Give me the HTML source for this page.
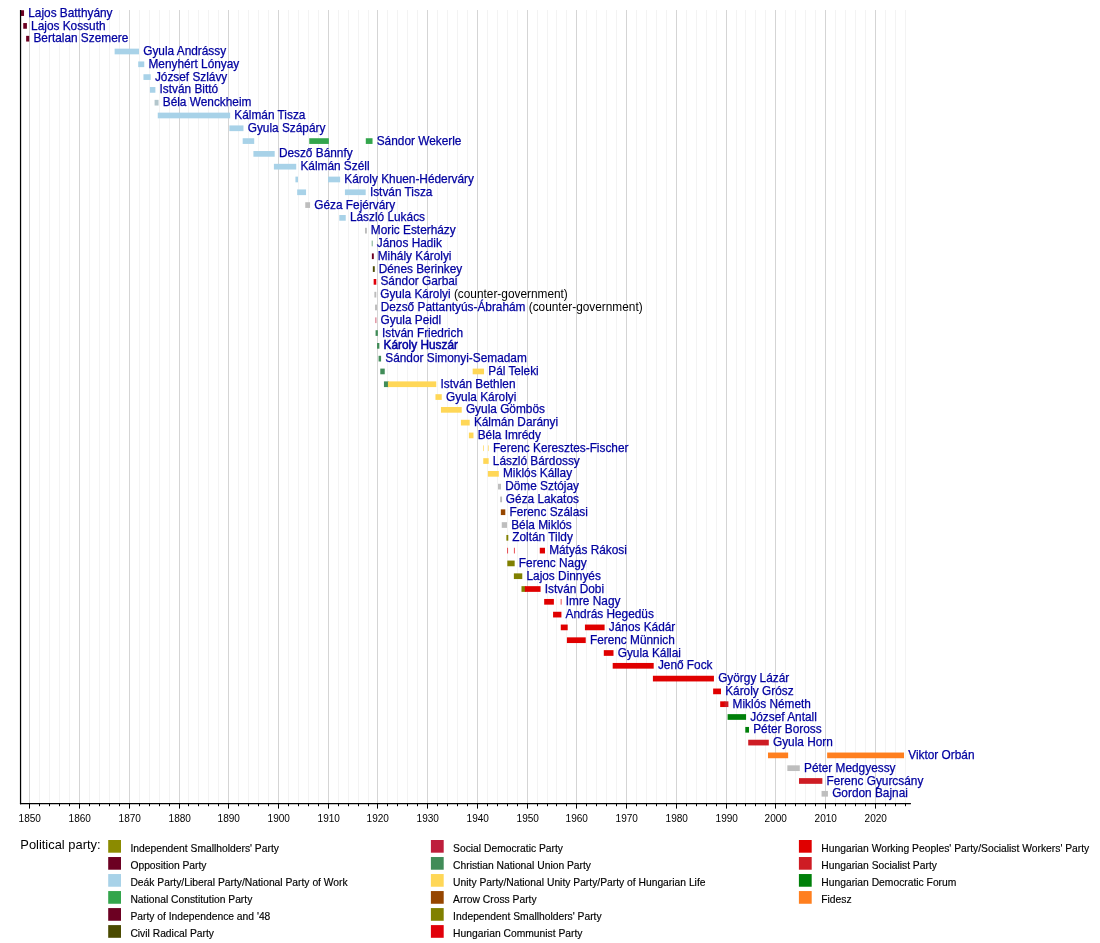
<!DOCTYPE html>
<html lang="en"><head><meta charset="utf-8"><title>Prime ministers of Hungary timeline</title>
<style>html,body{margin:0;padding:0;background:#fff}svg{display:block}</style></head>
<body>
<svg width="1100" height="943" viewBox="0 0 1100 943" font-family="'Liberation Sans', Arial, sans-serif">
<rect width="1100" height="943" fill="#fff"/>
<line x1="29.5" y1="10.0" x2="29.5" y2="803.6" stroke="#d5d5d5" stroke-width="1"/>
<line x1="39.5" y1="10.0" x2="39.5" y2="803.6" stroke="#f3f3f3" stroke-width="1"/>
<line x1="49.5" y1="10.0" x2="49.5" y2="803.6" stroke="#f3f3f3" stroke-width="1"/>
<line x1="59.5" y1="10.0" x2="59.5" y2="803.6" stroke="#f3f3f3" stroke-width="1"/>
<line x1="69.5" y1="10.0" x2="69.5" y2="803.6" stroke="#f3f3f3" stroke-width="1"/>
<line x1="79.5" y1="10.0" x2="79.5" y2="803.6" stroke="#d5d5d5" stroke-width="1"/>
<line x1="89.5" y1="10.0" x2="89.5" y2="803.6" stroke="#f3f3f3" stroke-width="1"/>
<line x1="99.5" y1="10.0" x2="99.5" y2="803.6" stroke="#f3f3f3" stroke-width="1"/>
<line x1="109.5" y1="10.0" x2="109.5" y2="803.6" stroke="#f3f3f3" stroke-width="1"/>
<line x1="119.5" y1="10.0" x2="119.5" y2="803.6" stroke="#f3f3f3" stroke-width="1"/>
<line x1="129.5" y1="10.0" x2="129.5" y2="803.6" stroke="#d5d5d5" stroke-width="1"/>
<line x1="139.5" y1="10.0" x2="139.5" y2="803.6" stroke="#f3f3f3" stroke-width="1"/>
<line x1="149.5" y1="10.0" x2="149.5" y2="803.6" stroke="#f3f3f3" stroke-width="1"/>
<line x1="159.5" y1="10.0" x2="159.5" y2="803.6" stroke="#f3f3f3" stroke-width="1"/>
<line x1="169.5" y1="10.0" x2="169.5" y2="803.6" stroke="#f3f3f3" stroke-width="1"/>
<line x1="179.5" y1="10.0" x2="179.5" y2="803.6" stroke="#d5d5d5" stroke-width="1"/>
<line x1="188.5" y1="10.0" x2="188.5" y2="803.6" stroke="#f3f3f3" stroke-width="1"/>
<line x1="198.5" y1="10.0" x2="198.5" y2="803.6" stroke="#f3f3f3" stroke-width="1"/>
<line x1="208.5" y1="10.0" x2="208.5" y2="803.6" stroke="#f3f3f3" stroke-width="1"/>
<line x1="218.5" y1="10.0" x2="218.5" y2="803.6" stroke="#f3f3f3" stroke-width="1"/>
<line x1="228.5" y1="10.0" x2="228.5" y2="803.6" stroke="#d5d5d5" stroke-width="1"/>
<line x1="238.5" y1="10.0" x2="238.5" y2="803.6" stroke="#f3f3f3" stroke-width="1"/>
<line x1="248.5" y1="10.0" x2="248.5" y2="803.6" stroke="#f3f3f3" stroke-width="1"/>
<line x1="258.5" y1="10.0" x2="258.5" y2="803.6" stroke="#f3f3f3" stroke-width="1"/>
<line x1="268.5" y1="10.0" x2="268.5" y2="803.6" stroke="#f3f3f3" stroke-width="1"/>
<line x1="278.5" y1="10.0" x2="278.5" y2="803.6" stroke="#d5d5d5" stroke-width="1"/>
<line x1="288.5" y1="10.0" x2="288.5" y2="803.6" stroke="#f3f3f3" stroke-width="1"/>
<line x1="298.5" y1="10.0" x2="298.5" y2="803.6" stroke="#f3f3f3" stroke-width="1"/>
<line x1="308.5" y1="10.0" x2="308.5" y2="803.6" stroke="#f3f3f3" stroke-width="1"/>
<line x1="318.5" y1="10.0" x2="318.5" y2="803.6" stroke="#f3f3f3" stroke-width="1"/>
<line x1="328.5" y1="10.0" x2="328.5" y2="803.6" stroke="#d5d5d5" stroke-width="1"/>
<line x1="338.5" y1="10.0" x2="338.5" y2="803.6" stroke="#f3f3f3" stroke-width="1"/>
<line x1="348.5" y1="10.0" x2="348.5" y2="803.6" stroke="#f3f3f3" stroke-width="1"/>
<line x1="358.5" y1="10.0" x2="358.5" y2="803.6" stroke="#f3f3f3" stroke-width="1"/>
<line x1="368.5" y1="10.0" x2="368.5" y2="803.6" stroke="#f3f3f3" stroke-width="1"/>
<line x1="377.5" y1="10.0" x2="377.5" y2="803.6" stroke="#d5d5d5" stroke-width="1"/>
<line x1="387.5" y1="10.0" x2="387.5" y2="803.6" stroke="#f3f3f3" stroke-width="1"/>
<line x1="397.5" y1="10.0" x2="397.5" y2="803.6" stroke="#f3f3f3" stroke-width="1"/>
<line x1="407.5" y1="10.0" x2="407.5" y2="803.6" stroke="#f3f3f3" stroke-width="1"/>
<line x1="417.5" y1="10.0" x2="417.5" y2="803.6" stroke="#f3f3f3" stroke-width="1"/>
<line x1="427.5" y1="10.0" x2="427.5" y2="803.6" stroke="#d5d5d5" stroke-width="1"/>
<line x1="437.5" y1="10.0" x2="437.5" y2="803.6" stroke="#f3f3f3" stroke-width="1"/>
<line x1="447.5" y1="10.0" x2="447.5" y2="803.6" stroke="#f3f3f3" stroke-width="1"/>
<line x1="457.5" y1="10.0" x2="457.5" y2="803.6" stroke="#f3f3f3" stroke-width="1"/>
<line x1="467.5" y1="10.0" x2="467.5" y2="803.6" stroke="#f3f3f3" stroke-width="1"/>
<line x1="477.5" y1="10.0" x2="477.5" y2="803.6" stroke="#d5d5d5" stroke-width="1"/>
<line x1="487.5" y1="10.0" x2="487.5" y2="803.6" stroke="#f3f3f3" stroke-width="1"/>
<line x1="497.5" y1="10.0" x2="497.5" y2="803.6" stroke="#f3f3f3" stroke-width="1"/>
<line x1="507.5" y1="10.0" x2="507.5" y2="803.6" stroke="#f3f3f3" stroke-width="1"/>
<line x1="517.5" y1="10.0" x2="517.5" y2="803.6" stroke="#f3f3f3" stroke-width="1"/>
<line x1="527.5" y1="10.0" x2="527.5" y2="803.6" stroke="#d5d5d5" stroke-width="1"/>
<line x1="537.5" y1="10.0" x2="537.5" y2="803.6" stroke="#f3f3f3" stroke-width="1"/>
<line x1="547.5" y1="10.0" x2="547.5" y2="803.6" stroke="#f3f3f3" stroke-width="1"/>
<line x1="556.5" y1="10.0" x2="556.5" y2="803.6" stroke="#f3f3f3" stroke-width="1"/>
<line x1="566.5" y1="10.0" x2="566.5" y2="803.6" stroke="#f3f3f3" stroke-width="1"/>
<line x1="576.5" y1="10.0" x2="576.5" y2="803.6" stroke="#d5d5d5" stroke-width="1"/>
<line x1="586.5" y1="10.0" x2="586.5" y2="803.6" stroke="#f3f3f3" stroke-width="1"/>
<line x1="596.5" y1="10.0" x2="596.5" y2="803.6" stroke="#f3f3f3" stroke-width="1"/>
<line x1="606.5" y1="10.0" x2="606.5" y2="803.6" stroke="#f3f3f3" stroke-width="1"/>
<line x1="616.5" y1="10.0" x2="616.5" y2="803.6" stroke="#f3f3f3" stroke-width="1"/>
<line x1="626.5" y1="10.0" x2="626.5" y2="803.6" stroke="#d5d5d5" stroke-width="1"/>
<line x1="636.5" y1="10.0" x2="636.5" y2="803.6" stroke="#f3f3f3" stroke-width="1"/>
<line x1="646.5" y1="10.0" x2="646.5" y2="803.6" stroke="#f3f3f3" stroke-width="1"/>
<line x1="656.5" y1="10.0" x2="656.5" y2="803.6" stroke="#f3f3f3" stroke-width="1"/>
<line x1="666.5" y1="10.0" x2="666.5" y2="803.6" stroke="#f3f3f3" stroke-width="1"/>
<line x1="676.5" y1="10.0" x2="676.5" y2="803.6" stroke="#d5d5d5" stroke-width="1"/>
<line x1="686.5" y1="10.0" x2="686.5" y2="803.6" stroke="#f3f3f3" stroke-width="1"/>
<line x1="696.5" y1="10.0" x2="696.5" y2="803.6" stroke="#f3f3f3" stroke-width="1"/>
<line x1="706.5" y1="10.0" x2="706.5" y2="803.6" stroke="#f3f3f3" stroke-width="1"/>
<line x1="716.5" y1="10.0" x2="716.5" y2="803.6" stroke="#f3f3f3" stroke-width="1"/>
<line x1="726.5" y1="10.0" x2="726.5" y2="803.6" stroke="#d5d5d5" stroke-width="1"/>
<line x1="736.5" y1="10.0" x2="736.5" y2="803.6" stroke="#f3f3f3" stroke-width="1"/>
<line x1="745.5" y1="10.0" x2="745.5" y2="803.6" stroke="#f3f3f3" stroke-width="1"/>
<line x1="755.5" y1="10.0" x2="755.5" y2="803.6" stroke="#f3f3f3" stroke-width="1"/>
<line x1="765.5" y1="10.0" x2="765.5" y2="803.6" stroke="#f3f3f3" stroke-width="1"/>
<line x1="775.5" y1="10.0" x2="775.5" y2="803.6" stroke="#d5d5d5" stroke-width="1"/>
<line x1="785.5" y1="10.0" x2="785.5" y2="803.6" stroke="#f3f3f3" stroke-width="1"/>
<line x1="795.5" y1="10.0" x2="795.5" y2="803.6" stroke="#f3f3f3" stroke-width="1"/>
<line x1="805.5" y1="10.0" x2="805.5" y2="803.6" stroke="#f3f3f3" stroke-width="1"/>
<line x1="815.5" y1="10.0" x2="815.5" y2="803.6" stroke="#f3f3f3" stroke-width="1"/>
<line x1="825.5" y1="10.0" x2="825.5" y2="803.6" stroke="#d5d5d5" stroke-width="1"/>
<line x1="835.5" y1="10.0" x2="835.5" y2="803.6" stroke="#f3f3f3" stroke-width="1"/>
<line x1="845.5" y1="10.0" x2="845.5" y2="803.6" stroke="#f3f3f3" stroke-width="1"/>
<line x1="855.5" y1="10.0" x2="855.5" y2="803.6" stroke="#f3f3f3" stroke-width="1"/>
<line x1="865.5" y1="10.0" x2="865.5" y2="803.6" stroke="#f3f3f3" stroke-width="1"/>
<line x1="875.5" y1="10.0" x2="875.5" y2="803.6" stroke="#d5d5d5" stroke-width="1"/>
<line x1="885.5" y1="10.0" x2="885.5" y2="803.6" stroke="#f3f3f3" stroke-width="1"/>
<line x1="895.5" y1="10.0" x2="895.5" y2="803.6" stroke="#f3f3f3" stroke-width="1"/>
<line x1="905.5" y1="10.0" x2="905.5" y2="803.6" stroke="#f3f3f3" stroke-width="1"/>
<rect x="20.54" y="10.25" width="3.50" height="5.7" fill="#6C0022"/>
<rect x="23.24" y="23.05" width="3.67" height="5.7" fill="#6C0022"/>
<rect x="26.13" y="35.85" width="3.13" height="5.7" fill="#6C0022"/>
<rect x="114.63" y="48.64" width="24.37" height="5.7" fill="#A8D2E8"/>
<rect x="138.20" y="61.44" width="6.05" height="5.7" fill="#A8D2E8"/>
<rect x="143.45" y="74.24" width="7.23" height="5.7" fill="#A8D2E8"/>
<rect x="149.88" y="87.04" width="5.51" height="5.7" fill="#A8D2E8"/>
<rect x="154.59" y="99.84" width="3.96" height="5.7" fill="#B3C6CC"/>
<rect x="157.75" y="112.63" width="72.38" height="5.7" fill="#A8D2E8"/>
<rect x="229.34" y="125.43" width="14.14" height="5.7" fill="#A8D2E8"/>
<rect x="242.68" y="138.23" width="11.53" height="5.7" fill="#A8D2E8"/>
<rect x="309.26" y="138.23" width="19.59" height="5.7" fill="#33A54C"/>
<rect x="365.79" y="138.23" width="6.74" height="5.7" fill="#33A54C"/>
<rect x="253.41" y="151.03" width="21.28" height="5.7" fill="#A8D2E8"/>
<rect x="273.89" y="163.83" width="22.34" height="5.7" fill="#A8D2E8"/>
<rect x="295.43" y="176.62" width="2.56" height="5.7" fill="#A8D2E8"/>
<rect x="328.05" y="176.62" width="12.05" height="5.7" fill="#A8D2E8"/>
<rect x="297.19" y="189.42" width="8.87" height="5.7" fill="#A8D2E8"/>
<rect x="344.93" y="189.42" width="20.76" height="5.7" fill="#A8D2E8"/>
<rect x="305.25" y="202.22" width="4.81" height="5.7" fill="#BEBEBE"/>
<rect x="339.30" y="215.02" width="6.43" height="5.7" fill="#A8D2E8"/>
<rect x="364.99" y="227.82" width="1.90" height="5.7" fill="#BCBCBC"/>
<rect x="371.79" y="240.61" width="0.70" height="5.7" fill="#418C58"/>
<rect x="371.88" y="253.41" width="1.90" height="5.7" fill="#6C0022"/>
<rect x="372.84" y="266.21" width="1.90" height="5.7" fill="#4A4A00"/>
<rect x="373.66" y="279.01" width="2.61" height="5.7" fill="#E1000A"/>
<rect x="374.39" y="291.81" width="1.90" height="5.7" fill="#BCBCBC"/>
<rect x="375.06" y="304.60" width="1.90" height="5.7" fill="#BCBCBC"/>
<rect x="375.56" y="317.40" width="0.70" height="5.7" fill="#BE1E3C"/>
<rect x="375.56" y="330.20" width="2.29" height="5.7" fill="#418C58"/>
<rect x="377.04" y="343.00" width="2.32" height="5.7" fill="#418C58"/>
<rect x="378.57" y="355.80" width="2.51" height="5.7" fill="#418C58"/>
<rect x="380.28" y="368.59" width="4.46" height="5.7" fill="#418C58"/>
<rect x="472.67" y="368.59" width="11.37" height="5.7" fill="#FFD757"/>
<rect x="383.94" y="381.39" width="4.81" height="5.7" fill="#418C58"/>
<rect x="387.94" y="381.39" width="48.32" height="5.7" fill="#FFD757"/>
<rect x="435.46" y="394.19" width="6.29" height="5.7" fill="#FFD757"/>
<rect x="440.96" y="406.99" width="20.76" height="5.7" fill="#FFD757"/>
<rect x="460.92" y="419.79" width="8.77" height="5.7" fill="#FFD757"/>
<rect x="468.89" y="432.58" width="4.59" height="5.7" fill="#FFD757"/>
<rect x="483.30" y="445.38" width="0.70" height="5.7" fill="#FFD757"/>
<rect x="487.92" y="445.38" width="0.70" height="5.7" fill="#FFD757"/>
<rect x="483.25" y="458.18" width="5.41" height="5.7" fill="#FFD757"/>
<rect x="487.88" y="470.98" width="10.93" height="5.7" fill="#FFD757"/>
<rect x="498.01" y="483.78" width="2.97" height="5.7" fill="#BEBEBE"/>
<rect x="500.16" y="496.57" width="1.90" height="5.7" fill="#BCBCBC"/>
<rect x="500.84" y="509.37" width="4.46" height="5.7" fill="#964600"/>
<rect x="501.75" y="522.17" width="5.27" height="5.7" fill="#BEBEBE"/>
<rect x="506.40" y="534.97" width="1.90" height="5.7" fill="#808000"/>
<rect x="507.35" y="547.77" width="0.70" height="5.7" fill="#E1000A"/>
<rect x="513.93" y="547.77" width="0.70" height="5.7" fill="#E1000A"/>
<rect x="539.77" y="547.77" width="5.21" height="5.7" fill="#E00000"/>
<rect x="507.32" y="560.56" width="7.35" height="5.7" fill="#808000"/>
<rect x="513.87" y="573.36" width="8.40" height="5.7" fill="#808000"/>
<rect x="521.48" y="586.16" width="4.18" height="5.7" fill="#808000"/>
<rect x="524.86" y="586.16" width="15.71" height="5.7" fill="#E00000"/>
<rect x="544.18" y="598.96" width="9.70" height="5.7" fill="#E00000"/>
<rect x="560.75" y="598.96" width="0.70" height="5.7" fill="#E00000"/>
<rect x="553.07" y="611.76" width="8.35" height="5.7" fill="#E00000"/>
<rect x="560.77" y="624.55" width="6.93" height="5.7" fill="#E00000"/>
<rect x="584.93" y="624.55" width="19.67" height="5.7" fill="#E00000"/>
<rect x="566.90" y="637.35" width="18.83" height="5.7" fill="#E00000"/>
<rect x="603.80" y="650.15" width="9.70" height="5.7" fill="#E00000"/>
<rect x="612.69" y="662.95" width="41.01" height="5.7" fill="#E00000"/>
<rect x="652.90" y="675.75" width="61.03" height="5.7" fill="#E00000"/>
<rect x="713.14" y="688.54" width="7.85" height="5.7" fill="#E00000"/>
<rect x="720.18" y="701.34" width="5.12" height="5.7" fill="#E00000"/>
<rect x="724.50" y="701.34" width="3.91" height="5.7" fill="#CE1C24"/>
<rect x="727.60" y="714.14" width="18.48" height="5.7" fill="#00800A"/>
<rect x="745.29" y="726.94" width="3.73" height="5.7" fill="#00800A"/>
<rect x="748.22" y="739.74" width="20.57" height="5.7" fill="#CE1C24"/>
<rect x="767.99" y="752.53" width="20.15" height="5.7" fill="#FF7F1F"/>
<rect x="827.15" y="752.53" width="76.88" height="5.7" fill="#FF7F1F"/>
<rect x="787.34" y="765.33" width="12.45" height="5.7" fill="#BEBEBE"/>
<rect x="798.99" y="778.13" width="23.37" height="5.7" fill="#CE1C24"/>
<rect x="821.56" y="790.93" width="6.39" height="5.7" fill="#BEBEBE"/>
<line x1="20.55" y1="10.0" x2="20.55" y2="804.2" stroke="#000" stroke-width="1.25"/>
<line x1="19.95" y1="803.6" x2="910.9" y2="803.6" stroke="#000" stroke-width="1.25"/>
<line x1="29.5" y1="803.6" x2="29.5" y2="808.6" stroke="#000" stroke-width="1"/>
<text x="29.8" y="821.6" font-size="10.05" text-anchor="middle" fill="#000">1850</text>
<line x1="39.5" y1="803.6" x2="39.5" y2="806.2" stroke="#000" stroke-width="1"/>
<line x1="49.5" y1="803.6" x2="49.5" y2="806.2" stroke="#000" stroke-width="1"/>
<line x1="59.5" y1="803.6" x2="59.5" y2="806.2" stroke="#000" stroke-width="1"/>
<line x1="69.5" y1="803.6" x2="69.5" y2="806.2" stroke="#000" stroke-width="1"/>
<line x1="79.5" y1="803.6" x2="79.5" y2="808.6" stroke="#000" stroke-width="1"/>
<text x="79.8" y="821.6" font-size="10.05" text-anchor="middle" fill="#000">1860</text>
<line x1="89.5" y1="803.6" x2="89.5" y2="806.2" stroke="#000" stroke-width="1"/>
<line x1="99.5" y1="803.6" x2="99.5" y2="806.2" stroke="#000" stroke-width="1"/>
<line x1="109.5" y1="803.6" x2="109.5" y2="806.2" stroke="#000" stroke-width="1"/>
<line x1="119.5" y1="803.6" x2="119.5" y2="806.2" stroke="#000" stroke-width="1"/>
<line x1="129.5" y1="803.6" x2="129.5" y2="808.6" stroke="#000" stroke-width="1"/>
<text x="129.8" y="821.6" font-size="10.05" text-anchor="middle" fill="#000">1870</text>
<line x1="139.5" y1="803.6" x2="139.5" y2="806.2" stroke="#000" stroke-width="1"/>
<line x1="149.5" y1="803.6" x2="149.5" y2="806.2" stroke="#000" stroke-width="1"/>
<line x1="159.5" y1="803.6" x2="159.5" y2="806.2" stroke="#000" stroke-width="1"/>
<line x1="169.5" y1="803.6" x2="169.5" y2="806.2" stroke="#000" stroke-width="1"/>
<line x1="179.5" y1="803.6" x2="179.5" y2="808.6" stroke="#000" stroke-width="1"/>
<text x="179.8" y="821.6" font-size="10.05" text-anchor="middle" fill="#000">1880</text>
<line x1="188.5" y1="803.6" x2="188.5" y2="806.2" stroke="#000" stroke-width="1"/>
<line x1="198.5" y1="803.6" x2="198.5" y2="806.2" stroke="#000" stroke-width="1"/>
<line x1="208.5" y1="803.6" x2="208.5" y2="806.2" stroke="#000" stroke-width="1"/>
<line x1="218.5" y1="803.6" x2="218.5" y2="806.2" stroke="#000" stroke-width="1"/>
<line x1="228.5" y1="803.6" x2="228.5" y2="808.6" stroke="#000" stroke-width="1"/>
<text x="228.8" y="821.6" font-size="10.05" text-anchor="middle" fill="#000">1890</text>
<line x1="238.5" y1="803.6" x2="238.5" y2="806.2" stroke="#000" stroke-width="1"/>
<line x1="248.5" y1="803.6" x2="248.5" y2="806.2" stroke="#000" stroke-width="1"/>
<line x1="258.5" y1="803.6" x2="258.5" y2="806.2" stroke="#000" stroke-width="1"/>
<line x1="268.5" y1="803.6" x2="268.5" y2="806.2" stroke="#000" stroke-width="1"/>
<line x1="278.5" y1="803.6" x2="278.5" y2="808.6" stroke="#000" stroke-width="1"/>
<text x="278.8" y="821.6" font-size="10.05" text-anchor="middle" fill="#000">1900</text>
<line x1="288.5" y1="803.6" x2="288.5" y2="806.2" stroke="#000" stroke-width="1"/>
<line x1="298.5" y1="803.6" x2="298.5" y2="806.2" stroke="#000" stroke-width="1"/>
<line x1="308.5" y1="803.6" x2="308.5" y2="806.2" stroke="#000" stroke-width="1"/>
<line x1="318.5" y1="803.6" x2="318.5" y2="806.2" stroke="#000" stroke-width="1"/>
<line x1="328.5" y1="803.6" x2="328.5" y2="808.6" stroke="#000" stroke-width="1"/>
<text x="328.8" y="821.6" font-size="10.05" text-anchor="middle" fill="#000">1910</text>
<line x1="338.5" y1="803.6" x2="338.5" y2="806.2" stroke="#000" stroke-width="1"/>
<line x1="348.5" y1="803.6" x2="348.5" y2="806.2" stroke="#000" stroke-width="1"/>
<line x1="358.5" y1="803.6" x2="358.5" y2="806.2" stroke="#000" stroke-width="1"/>
<line x1="368.5" y1="803.6" x2="368.5" y2="806.2" stroke="#000" stroke-width="1"/>
<line x1="377.5" y1="803.6" x2="377.5" y2="808.6" stroke="#000" stroke-width="1"/>
<text x="377.8" y="821.6" font-size="10.05" text-anchor="middle" fill="#000">1920</text>
<line x1="387.5" y1="803.6" x2="387.5" y2="806.2" stroke="#000" stroke-width="1"/>
<line x1="397.5" y1="803.6" x2="397.5" y2="806.2" stroke="#000" stroke-width="1"/>
<line x1="407.5" y1="803.6" x2="407.5" y2="806.2" stroke="#000" stroke-width="1"/>
<line x1="417.5" y1="803.6" x2="417.5" y2="806.2" stroke="#000" stroke-width="1"/>
<line x1="427.5" y1="803.6" x2="427.5" y2="808.6" stroke="#000" stroke-width="1"/>
<text x="427.8" y="821.6" font-size="10.05" text-anchor="middle" fill="#000">1930</text>
<line x1="437.5" y1="803.6" x2="437.5" y2="806.2" stroke="#000" stroke-width="1"/>
<line x1="447.5" y1="803.6" x2="447.5" y2="806.2" stroke="#000" stroke-width="1"/>
<line x1="457.5" y1="803.6" x2="457.5" y2="806.2" stroke="#000" stroke-width="1"/>
<line x1="467.5" y1="803.6" x2="467.5" y2="806.2" stroke="#000" stroke-width="1"/>
<line x1="477.5" y1="803.6" x2="477.5" y2="808.6" stroke="#000" stroke-width="1"/>
<text x="477.8" y="821.6" font-size="10.05" text-anchor="middle" fill="#000">1940</text>
<line x1="487.5" y1="803.6" x2="487.5" y2="806.2" stroke="#000" stroke-width="1"/>
<line x1="497.5" y1="803.6" x2="497.5" y2="806.2" stroke="#000" stroke-width="1"/>
<line x1="507.5" y1="803.6" x2="507.5" y2="806.2" stroke="#000" stroke-width="1"/>
<line x1="517.5" y1="803.6" x2="517.5" y2="806.2" stroke="#000" stroke-width="1"/>
<line x1="527.5" y1="803.6" x2="527.5" y2="808.6" stroke="#000" stroke-width="1"/>
<text x="527.8" y="821.6" font-size="10.05" text-anchor="middle" fill="#000">1950</text>
<line x1="537.5" y1="803.6" x2="537.5" y2="806.2" stroke="#000" stroke-width="1"/>
<line x1="547.5" y1="803.6" x2="547.5" y2="806.2" stroke="#000" stroke-width="1"/>
<line x1="556.5" y1="803.6" x2="556.5" y2="806.2" stroke="#000" stroke-width="1"/>
<line x1="566.5" y1="803.6" x2="566.5" y2="806.2" stroke="#000" stroke-width="1"/>
<line x1="576.5" y1="803.6" x2="576.5" y2="808.6" stroke="#000" stroke-width="1"/>
<text x="576.8" y="821.6" font-size="10.05" text-anchor="middle" fill="#000">1960</text>
<line x1="586.5" y1="803.6" x2="586.5" y2="806.2" stroke="#000" stroke-width="1"/>
<line x1="596.5" y1="803.6" x2="596.5" y2="806.2" stroke="#000" stroke-width="1"/>
<line x1="606.5" y1="803.6" x2="606.5" y2="806.2" stroke="#000" stroke-width="1"/>
<line x1="616.5" y1="803.6" x2="616.5" y2="806.2" stroke="#000" stroke-width="1"/>
<line x1="626.5" y1="803.6" x2="626.5" y2="808.6" stroke="#000" stroke-width="1"/>
<text x="626.8" y="821.6" font-size="10.05" text-anchor="middle" fill="#000">1970</text>
<line x1="636.5" y1="803.6" x2="636.5" y2="806.2" stroke="#000" stroke-width="1"/>
<line x1="646.5" y1="803.6" x2="646.5" y2="806.2" stroke="#000" stroke-width="1"/>
<line x1="656.5" y1="803.6" x2="656.5" y2="806.2" stroke="#000" stroke-width="1"/>
<line x1="666.5" y1="803.6" x2="666.5" y2="806.2" stroke="#000" stroke-width="1"/>
<line x1="676.5" y1="803.6" x2="676.5" y2="808.6" stroke="#000" stroke-width="1"/>
<text x="676.8" y="821.6" font-size="10.05" text-anchor="middle" fill="#000">1980</text>
<line x1="686.5" y1="803.6" x2="686.5" y2="806.2" stroke="#000" stroke-width="1"/>
<line x1="696.5" y1="803.6" x2="696.5" y2="806.2" stroke="#000" stroke-width="1"/>
<line x1="706.5" y1="803.6" x2="706.5" y2="806.2" stroke="#000" stroke-width="1"/>
<line x1="716.5" y1="803.6" x2="716.5" y2="806.2" stroke="#000" stroke-width="1"/>
<line x1="726.5" y1="803.6" x2="726.5" y2="808.6" stroke="#000" stroke-width="1"/>
<text x="726.8" y="821.6" font-size="10.05" text-anchor="middle" fill="#000">1990</text>
<line x1="736.5" y1="803.6" x2="736.5" y2="806.2" stroke="#000" stroke-width="1"/>
<line x1="745.5" y1="803.6" x2="745.5" y2="806.2" stroke="#000" stroke-width="1"/>
<line x1="755.5" y1="803.6" x2="755.5" y2="806.2" stroke="#000" stroke-width="1"/>
<line x1="765.5" y1="803.6" x2="765.5" y2="806.2" stroke="#000" stroke-width="1"/>
<line x1="775.5" y1="803.6" x2="775.5" y2="808.6" stroke="#000" stroke-width="1"/>
<text x="775.8" y="821.6" font-size="10.05" text-anchor="middle" fill="#000">2000</text>
<line x1="785.5" y1="803.6" x2="785.5" y2="806.2" stroke="#000" stroke-width="1"/>
<line x1="795.5" y1="803.6" x2="795.5" y2="806.2" stroke="#000" stroke-width="1"/>
<line x1="805.5" y1="803.6" x2="805.5" y2="806.2" stroke="#000" stroke-width="1"/>
<line x1="815.5" y1="803.6" x2="815.5" y2="806.2" stroke="#000" stroke-width="1"/>
<line x1="825.5" y1="803.6" x2="825.5" y2="808.6" stroke="#000" stroke-width="1"/>
<text x="825.8" y="821.6" font-size="10.05" text-anchor="middle" fill="#000">2010</text>
<line x1="835.5" y1="803.6" x2="835.5" y2="806.2" stroke="#000" stroke-width="1"/>
<line x1="845.5" y1="803.6" x2="845.5" y2="806.2" stroke="#000" stroke-width="1"/>
<line x1="855.5" y1="803.6" x2="855.5" y2="806.2" stroke="#000" stroke-width="1"/>
<line x1="865.5" y1="803.6" x2="865.5" y2="806.2" stroke="#000" stroke-width="1"/>
<line x1="875.5" y1="803.6" x2="875.5" y2="808.6" stroke="#000" stroke-width="1"/>
<text x="875.8" y="821.6" font-size="10.05" text-anchor="middle" fill="#000">2020</text>
<line x1="885.5" y1="803.6" x2="885.5" y2="806.2" stroke="#000" stroke-width="1"/>
<line x1="895.5" y1="803.6" x2="895.5" y2="806.2" stroke="#000" stroke-width="1"/>
<line x1="905.5" y1="803.6" x2="905.5" y2="806.2" stroke="#000" stroke-width="1"/>
<text x="28.24" y="16.70" font-size="11.85" fill="#0000a0" stroke="#0000a0" stroke-width="0.25" xml:space="preserve">Lajos Batthyány</text>
<text x="31.11" y="29.50" font-size="11.85" fill="#0000a0" stroke="#0000a0" stroke-width="0.25" xml:space="preserve">Lajos Kossuth</text>
<text x="33.46" y="42.30" font-size="11.85" fill="#0000a0" stroke="#0000a0" stroke-width="0.25" xml:space="preserve">Bertalan Szemere</text>
<text x="143.20" y="55.09" font-size="11.85" fill="#0000a0" stroke="#0000a0" stroke-width="0.25" xml:space="preserve">Gyula Andrássy</text>
<text x="148.45" y="67.89" font-size="11.85" fill="#0000a0" stroke="#0000a0" stroke-width="0.25" xml:space="preserve">Menyhért Lónyay</text>
<text x="154.88" y="80.69" font-size="11.85" fill="#0000a0" stroke="#0000a0" stroke-width="0.25" xml:space="preserve">József Szlávy</text>
<text x="159.59" y="93.49" font-size="11.85" fill="#0000a0" stroke="#0000a0" stroke-width="0.25" xml:space="preserve">István Bittó</text>
<text x="162.75" y="106.29" font-size="11.85" fill="#0000a0" stroke="#0000a0" stroke-width="0.25" xml:space="preserve">Béla Wenckheim</text>
<text x="234.34" y="119.08" font-size="11.85" fill="#0000a0" stroke="#0000a0" stroke-width="0.25" xml:space="preserve">Kálmán Tisza</text>
<text x="247.68" y="131.88" font-size="11.85" fill="#0000a0" stroke="#0000a0" stroke-width="0.25" xml:space="preserve">Gyula Szápáry</text>
<text x="376.73" y="144.68" font-size="11.85" fill="#0000a0" stroke="#0000a0" stroke-width="0.25" xml:space="preserve">Sándor Wekerle</text>
<text x="278.89" y="157.48" font-size="11.85" fill="#0000a0" stroke="#0000a0" stroke-width="0.25" xml:space="preserve">Desző Bánnfy</text>
<text x="300.43" y="170.28" font-size="11.85" fill="#0000a0" stroke="#0000a0" stroke-width="0.25" xml:space="preserve">Kálmán Széll</text>
<text x="344.30" y="183.07" font-size="11.85" fill="#0000a0" stroke="#0000a0" stroke-width="0.25" xml:space="preserve">Károly Khuen-Héderváry</text>
<text x="369.89" y="195.87" font-size="11.85" fill="#0000a0" stroke="#0000a0" stroke-width="0.25" xml:space="preserve">István Tisza</text>
<text x="314.26" y="208.67" font-size="11.85" fill="#0000a0" stroke="#0000a0" stroke-width="0.25" xml:space="preserve">Géza Fejérváry</text>
<text x="349.93" y="221.47" font-size="11.85" fill="#0000a0" stroke="#0000a0" stroke-width="0.25" xml:space="preserve">László Lukács</text>
<text x="370.79" y="234.27" font-size="11.85" fill="#0000a0" stroke="#0000a0" stroke-width="0.25" xml:space="preserve">Moric Esterházy</text>
<text x="376.74" y="247.06" font-size="11.85" fill="#0000a0" stroke="#0000a0" stroke-width="0.25" xml:space="preserve">János Hadik</text>
<text x="377.72" y="259.86" font-size="11.85" fill="#0000a0" stroke="#0000a0" stroke-width="0.25" xml:space="preserve">Mihály Károlyi</text>
<text x="378.66" y="272.66" font-size="11.85" fill="#0000a0" stroke="#0000a0" stroke-width="0.25" xml:space="preserve">Dénes Berinkey</text>
<text x="380.48" y="285.46" font-size="11.85" fill="#0000a0" stroke="#0000a0" stroke-width="0.25" xml:space="preserve">Sándor Garbai</text>
<text x="380.20" y="298.26" font-size="11.85" fill="#0000a0" stroke="#0000a0" stroke-width="0.25" xml:space="preserve"><tspan fill="#0000a0">Gyula Károlyi</tspan><tspan fill="#000" stroke="none"> (counter-government)</tspan></text>
<text x="380.63" y="311.05" font-size="11.85" fill="#0000a0" stroke="#0000a0" stroke-width="0.25" xml:space="preserve"><tspan fill="#0000a0">Dezső Pattantyús-Ábrahám</tspan><tspan fill="#000" stroke="none"> (counter-government)</tspan></text>
<text x="380.54" y="323.85" font-size="11.85" fill="#0000a0" stroke="#0000a0" stroke-width="0.25" xml:space="preserve">Gyula Peidl</text>
<text x="382.04" y="336.65" font-size="11.85" fill="#0000a0" stroke="#0000a0" stroke-width="0.25" xml:space="preserve">István Friedrich</text>
<text x="383.57" y="349.45" font-size="11.85" fill="#0000a0" stroke="#0000a0" stroke-width="0.25" xml:space="preserve" style="stroke-width:0.5">Károly Huszár</text>
<text x="385.28" y="362.25" font-size="11.85" fill="#0000a0" stroke="#0000a0" stroke-width="0.25" xml:space="preserve">Sándor Simonyi-Semadam</text>
<text x="488.25" y="375.04" font-size="11.85" fill="#0000a0" stroke="#0000a0" stroke-width="0.25" xml:space="preserve">Pál Teleki</text>
<text x="440.46" y="387.84" font-size="11.85" fill="#0000a0" stroke="#0000a0" stroke-width="0.25" xml:space="preserve">István Bethlen</text>
<text x="445.96" y="400.64" font-size="11.85" fill="#0000a0" stroke="#0000a0" stroke-width="0.25" xml:space="preserve">Gyula Károlyi</text>
<text x="465.92" y="413.44" font-size="11.85" fill="#0000a0" stroke="#0000a0" stroke-width="0.25" xml:space="preserve">Gyula Gömbös</text>
<text x="473.89" y="426.24" font-size="11.85" fill="#0000a0" stroke="#0000a0" stroke-width="0.25" xml:space="preserve">Kálmán Darányi</text>
<text x="477.67" y="439.03" font-size="11.85" fill="#0000a0" stroke="#0000a0" stroke-width="0.25" xml:space="preserve">Béla Imrédy</text>
<text x="492.88" y="451.83" font-size="11.85" fill="#0000a0" stroke="#0000a0" stroke-width="0.25" xml:space="preserve">Ferenc Keresztes-Fischer</text>
<text x="492.85" y="464.63" font-size="11.85" fill="#0000a0" stroke="#0000a0" stroke-width="0.25" xml:space="preserve">László Bárdossy</text>
<text x="503.01" y="477.43" font-size="11.85" fill="#0000a0" stroke="#0000a0" stroke-width="0.25" xml:space="preserve">Miklós Kállay</text>
<text x="505.19" y="490.23" font-size="11.85" fill="#0000a0" stroke="#0000a0" stroke-width="0.25" xml:space="preserve">Döme Sztójay</text>
<text x="505.84" y="503.02" font-size="11.85" fill="#0000a0" stroke="#0000a0" stroke-width="0.25" xml:space="preserve">Géza Lakatos</text>
<text x="509.50" y="515.82" font-size="11.85" fill="#0000a0" stroke="#0000a0" stroke-width="0.25" xml:space="preserve">Ferenc Szálasi</text>
<text x="511.22" y="528.62" font-size="11.85" fill="#0000a0" stroke="#0000a0" stroke-width="0.25" xml:space="preserve">Béla Miklós</text>
<text x="512.28" y="541.42" font-size="11.85" fill="#0000a0" stroke="#0000a0" stroke-width="0.25" xml:space="preserve">Zoltán Tildy</text>
<text x="549.18" y="554.22" font-size="11.85" fill="#0000a0" stroke="#0000a0" stroke-width="0.25" xml:space="preserve">Mátyás Rákosi</text>
<text x="518.87" y="567.01" font-size="11.85" fill="#0000a0" stroke="#0000a0" stroke-width="0.25" xml:space="preserve">Ferenc Nagy</text>
<text x="526.48" y="579.81" font-size="11.85" fill="#0000a0" stroke="#0000a0" stroke-width="0.25" xml:space="preserve">Lajos Dinnyés</text>
<text x="544.77" y="592.61" font-size="11.85" fill="#0000a0" stroke="#0000a0" stroke-width="0.25" xml:space="preserve">István Dobi</text>
<text x="565.77" y="605.41" font-size="11.85" fill="#0000a0" stroke="#0000a0" stroke-width="0.25" xml:space="preserve">Imre Nagy</text>
<text x="565.62" y="618.21" font-size="11.85" fill="#0000a0" stroke="#0000a0" stroke-width="0.25" xml:space="preserve">András Hegedüs</text>
<text x="608.80" y="631.00" font-size="11.85" fill="#0000a0" stroke="#0000a0" stroke-width="0.25" xml:space="preserve">János Kádár</text>
<text x="589.93" y="643.80" font-size="11.85" fill="#0000a0" stroke="#0000a0" stroke-width="0.25" xml:space="preserve">Ferenc Münnich</text>
<text x="617.69" y="656.60" font-size="11.85" fill="#0000a0" stroke="#0000a0" stroke-width="0.25" xml:space="preserve">Gyula Kállai</text>
<text x="657.90" y="669.40" font-size="11.85" fill="#0000a0" stroke="#0000a0" stroke-width="0.25" xml:space="preserve">Jenő Fock</text>
<text x="718.14" y="682.20" font-size="11.85" fill="#0000a0" stroke="#0000a0" stroke-width="0.25" xml:space="preserve">György Lázár</text>
<text x="725.18" y="694.99" font-size="11.85" fill="#0000a0" stroke="#0000a0" stroke-width="0.25" xml:space="preserve">Károly Grósz</text>
<text x="732.60" y="707.79" font-size="11.85" fill="#0000a0" stroke="#0000a0" stroke-width="0.25" xml:space="preserve">Miklós Németh</text>
<text x="750.29" y="720.59" font-size="11.85" fill="#0000a0" stroke="#0000a0" stroke-width="0.25" xml:space="preserve">József Antall</text>
<text x="753.22" y="733.39" font-size="11.85" fill="#0000a0" stroke="#0000a0" stroke-width="0.25" xml:space="preserve">Péter Boross</text>
<text x="772.99" y="746.19" font-size="11.85" fill="#0000a0" stroke="#0000a0" stroke-width="0.25" xml:space="preserve">Gyula Horn</text>
<text x="908.23" y="758.98" font-size="11.85" fill="#0000a0" stroke="#0000a0" stroke-width="0.25" xml:space="preserve">Viktor Orbán</text>
<text x="803.99" y="771.78" font-size="11.85" fill="#0000a0" stroke="#0000a0" stroke-width="0.25" xml:space="preserve">Péter Medgyessy</text>
<text x="826.56" y="784.58" font-size="11.85" fill="#0000a0" stroke="#0000a0" stroke-width="0.25" xml:space="preserve">Ferenc Gyurcsány</text>
<text x="832.15" y="797.38" font-size="11.85" fill="#0000a0" stroke="#0000a0" stroke-width="0.25" xml:space="preserve">Gordon Bajnai</text>
<text x="20.3" y="848.7" font-size="12.9" fill="#000">Political party:</text>
<rect x="108.2" y="840.00" width="12.8" height="12.7" fill="#8B8B00"/>
<text x="130.4" y="851.80" font-size="10.3" fill="#000" stroke="#000" stroke-width="0.15">Independent Smallholders' Party</text>
<rect x="108.2" y="857.02" width="12.8" height="12.7" fill="#6C0022"/>
<text x="130.4" y="868.82" font-size="10.3" fill="#000" stroke="#000" stroke-width="0.15">Opposition Party</text>
<rect x="108.2" y="874.04" width="12.8" height="12.7" fill="#A8D2E8"/>
<text x="130.4" y="885.84" font-size="10.3" fill="#000" stroke="#000" stroke-width="0.15">Deák Party/Liberal Party/National Party of Work</text>
<rect x="108.2" y="891.06" width="12.8" height="12.7" fill="#33A54C"/>
<text x="130.4" y="902.86" font-size="10.3" fill="#000" stroke="#000" stroke-width="0.15">National Constitution Party</text>
<rect x="108.2" y="908.08" width="12.8" height="12.7" fill="#6C0022"/>
<text x="130.4" y="919.88" font-size="10.3" fill="#000" stroke="#000" stroke-width="0.15">Party of Independence and '48</text>
<rect x="108.2" y="925.10" width="12.8" height="12.7" fill="#4A4A00"/>
<text x="130.4" y="936.90" font-size="10.3" fill="#000" stroke="#000" stroke-width="0.15">Civil Radical Party</text>
<rect x="430.9" y="840.00" width="12.8" height="12.7" fill="#BE1E3C"/>
<text x="453.1" y="851.80" font-size="10.3" fill="#000" stroke="#000" stroke-width="0.15">Social Democratic Party</text>
<rect x="430.9" y="857.02" width="12.8" height="12.7" fill="#418C58"/>
<text x="453.1" y="868.82" font-size="10.3" fill="#000" stroke="#000" stroke-width="0.15">Christian National Union Party</text>
<rect x="430.9" y="874.04" width="12.8" height="12.7" fill="#FFD757"/>
<text x="453.1" y="885.84" font-size="10.3" fill="#000" stroke="#000" stroke-width="0.15">Unity Party/National Unity Party/Party of Hungarian Life</text>
<rect x="430.9" y="891.06" width="12.8" height="12.7" fill="#964600"/>
<text x="453.1" y="902.86" font-size="10.3" fill="#000" stroke="#000" stroke-width="0.15">Arrow Cross Party</text>
<rect x="430.9" y="908.08" width="12.8" height="12.7" fill="#808000"/>
<text x="453.1" y="919.88" font-size="10.3" fill="#000" stroke="#000" stroke-width="0.15">Independent Smallholders' Party</text>
<rect x="430.9" y="925.10" width="12.8" height="12.7" fill="#E1000A"/>
<text x="453.1" y="936.90" font-size="10.3" fill="#000" stroke="#000" stroke-width="0.15">Hungarian Communist Party</text>
<rect x="798.9" y="840.00" width="12.8" height="12.7" fill="#E00000"/>
<text x="821.3" y="851.80" font-size="10.3" fill="#000" stroke="#000" stroke-width="0.15">Hungarian Working Peoples' Party/Socialist Workers' Party</text>
<rect x="798.9" y="857.02" width="12.8" height="12.7" fill="#CE1C24"/>
<text x="821.3" y="868.82" font-size="10.3" fill="#000" stroke="#000" stroke-width="0.15">Hungarian Socialist Party</text>
<rect x="798.9" y="874.04" width="12.8" height="12.7" fill="#00800A"/>
<text x="821.3" y="885.84" font-size="10.3" fill="#000" stroke="#000" stroke-width="0.15">Hungarian Democratic Forum</text>
<rect x="798.9" y="891.06" width="12.8" height="12.7" fill="#FF7F1F"/>
<text x="821.3" y="902.86" font-size="10.3" fill="#000" stroke="#000" stroke-width="0.15">Fidesz</text>
</svg>
</body></html>
